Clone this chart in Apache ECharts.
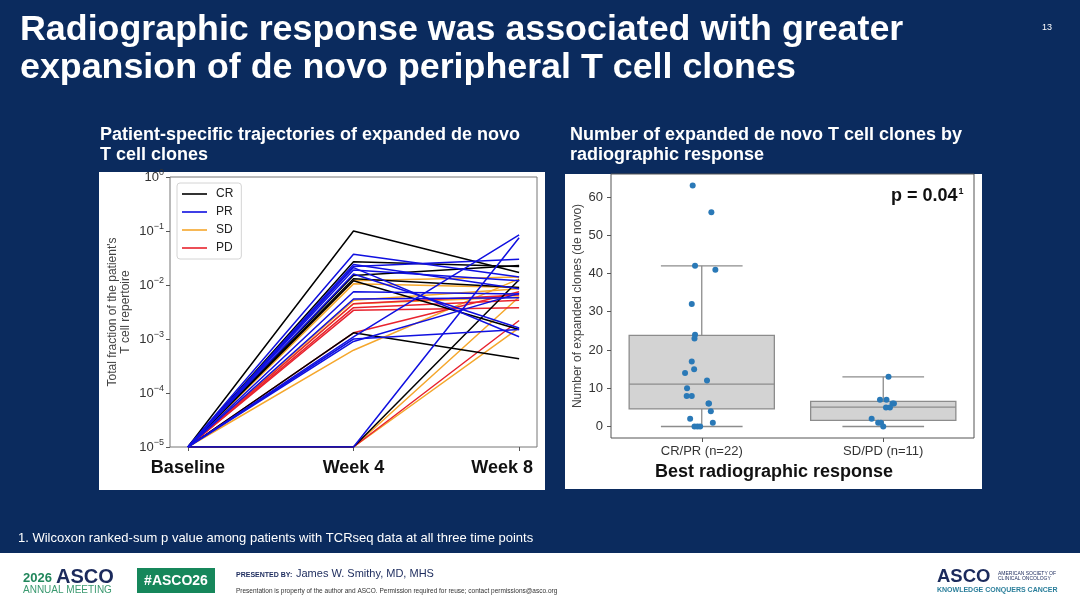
<!DOCTYPE html>
<html>
<head>
<meta charset="utf-8">
<script src="https://cdn.jsdelivr.net/npm/echarts@6/dist/echarts.min.js"></script>
<style>
  html, body { margin: 0; padding: 0; background: #0b2b5e; }
  #main { width: 1080px; height: 608px; }
</style>
</head>
<body>
<div id="main"></div>
<script>
// time points of the trajectories
const timepoints = ['Baseline', 'Week 4', 'Week 8']

// fraction of the T cell repertoire at baseline / week 4 / week 8, one row per patient
const CR = [
  [1e-5, 0.1, 0.017],
  [1e-5, 0.027, 0.022],
  [1e-5, 0.015, 0.023],
  [1e-5, 0.013, 0.009],
  [1e-5, 0.012, 0.0015],
  [1e-5, 0.0013, 0.00043],
  [1e-5, 1e-5, 0.0125]
]
const PR = [
  [1e-5, 0.037, 0.014],
  [1e-5, 0.024, 0.0085],
  [1e-5, 0.022, 0.03],
  [1e-5, 0.021, 0.0011],
  [1e-5, 0.019, 0.012],
  [1e-5, 0.016, 0.0016],
  [1e-5, 0.0075, 0.0068],
  [1e-5, 0.0055, 0.0058],
  [1e-5, 0.0011, 0.085],
  [1e-5, 0.001, 0.0015],
  [1e-5, 0.0009, 0.007],
  [1e-5, 1e-5, 0.075]
]
const SD = [
  [1e-5, 0.012, 0.014],
  [1e-5, 0.0105, 0.009],
  [1e-5, 0.0052, 0.0085],
  [1e-5, 0.0045, 0.006],
  [1e-5, 0.00062, 0.013],
  [1e-5, 1e-5, 0.006],
  [1e-5, 1e-5, 0.0016]
]
const PD = [
  [1e-5, 0.0045, 0.0065],
  [1e-5, 0.0038, 0.0052],
  [1e-5, 0.0034, 0.0038],
  [1e-5, 0.0013, 0.0075],
  [1e-5, 1e-5, 0.0022]
]

// right panel: number of expanded de novo clones per patient
const responseGroups = ['CR/PR (n=22)', 'SD/PD (n=11)']
const crprClones = [63, 56, 42, 41, 32, 24, 23, 17, 15, 14, 12, 10, 8, 8, 6, 6, 4, 2, 1, 0, 0, 0]
const crprJitter = [-0.05, 0.053, -0.037, 0.075, -0.055, -0.037, -0.04, -0.055, -0.042, -0.092, 0.029,
  -0.081, -0.083, -0.055, 0.037, 0.04, 0.05, -0.064, 0.061, -0.04, -0.024, -0.009]
const sdpdClones = [13, 7, 7, 6, 6, 5, 5, 2, 1, 1, 0]
const sdpdJitter = [0.029, -0.018, 0.018, 0.051, 0.059, 0.015, 0.037, -0.064, -0.028, -0.013, 0]
// box stats: lower whisker, q1, median, q3, upper whisker
const crprBox = [0, 4.6, 11.1, 23.8, 42]
const sdpdBox = [0, 1.6, 5.05, 6.55, 13]

const NAVY = '#0b2b5e'
const chart = echarts.init(document.getElementById('main'), null, { renderer: 'canvas' })

const legendNames = ['CR', 'PR', 'SD', 'PD']
const colors = { CR: '#000000', PR: '#1010e0', SD: '#f5a72c', PD: '#e8232e' }
// drawing order: later groups end up on top
const drawOrder = [['SD', SD], ['PD', PD], ['CR', CR], ['PR', PR]]

let lineSeries = []
drawOrder.forEach(function (g) {
  g[1].forEach(function (row) {
    lineSeries.push({
      type: 'line',
      name: g[0],
      xAxisIndex: 0,
      yAxisIndex: 0,
      symbol: 'none',
      silent: true,
      data: row.map(function (v, i) { return [i, v] }),
      lineStyle: { color: colors[g[0]], width: 1.5 },
      itemStyle: { color: colors[g[0]] }
    })
  })
})

function supLabel (v) {
  let e = Math.round(Math.log10(v))
  return '{b|10}{s|' + (e === 0 ? '0' : '\u2212' + (-e)) + '}'
}

function renderBox (params, api) {
  let x = api.value(0)
  let lo = api.coord([x, api.value(1)])
  let q1 = api.coord([x, api.value(2)])
  let med = api.coord([x, api.value(3)])
  let q3 = api.coord([x, api.value(4)])
  let hi = api.coord([x, api.value(5)])
  let half = api.size([0.4, 0])[0]
  let cap = api.size([0.225, 0])[0]
  let cx = lo[0]
  let stroke = { stroke: '#8c8c8c', lineWidth: 1.3, fill: null }
  return {
    type: 'group',
    children: [
      { type: 'line', shape: { x1: cx, y1: q3[1], x2: cx, y2: hi[1] }, style: stroke },
      { type: 'line', shape: { x1: cx, y1: q1[1], x2: cx, y2: lo[1] }, style: stroke },
      { type: 'line', shape: { x1: cx - cap, y1: hi[1], x2: cx + cap, y2: hi[1] }, style: stroke },
      { type: 'line', shape: { x1: cx - cap, y1: lo[1], x2: cx + cap, y2: lo[1] }, style: stroke },
      { type: 'rect', shape: { x: cx - half, y: q3[1], width: half * 2, height: q1[1] - q3[1] },
        style: { fill: '#d3d3d3', stroke: '#8c8c8c', lineWidth: 1.3 } },
      { type: 'line', shape: { x1: cx - half, y1: med[1], x2: cx + half, y2: med[1] }, style: stroke }
    ]
  }
}

const option = {
  backgroundColor: NAVY,
  animation: false,
  textStyle: { fontFamily: 'Liberation Sans, Arial, sans-serif' },
  legend: {
    data: legendNames.map(function (n) {
      return { name: n, itemStyle: { color: colors[n] } }
    }),
    orient: 'vertical',
    left: 177,
    top: 183,
    icon: 'rect',
    itemWidth: 25,
    itemHeight: 1.6,
    itemGap: 4,
    padding: [4, 8, 4, 5],
    backgroundColor: '#fff',
    borderColor: '#d4d4d4',
    borderWidth: 1,
    borderRadius: 3,
    selectedMode: false,
    textStyle: { fontSize: 12, color: '#222', lineHeight: 14, padding: [0, 0, 0, 4] }
  },
  grid: [
    { left: 170, top: 177, width: 367, height: 270, show: true, borderColor: '#777', borderWidth: 1, backgroundColor: '#fff' },
    { left: 611, top: 174, width: 363, height: 264, show: true, borderColor: '#555', borderWidth: 1, backgroundColor: '#fff' }
  ],
  xAxis: [
    {
      type: 'value', gridIndex: 0, min: -0.108, max: 2.108,
      axisLine: { show: false, onZero: false },
      splitLine: { show: false },
      axisTick: { customValues: [0, 1, 2], length: 4, lineStyle: { color: '#555' } },
      axisLabel: {
        customValues: [0, 1, 2],
        margin: 12,
        formatter: function (v) {
          let t = timepoints[Math.round(v)]
          return v === 2 ? '{e|' + t + '}' : '{n|' + t + '}'
        },
        rich: {
          n: { fontSize: 18, fontWeight: 'bold', color: '#111' },
          e: { fontSize: 18, fontWeight: 'bold', color: '#111', padding: [0, 34, 0, 0] }
        }
      }
    },
    {
      type: 'value', gridIndex: 1, min: -0.5, max: 1.5,
      axisLine: { show: false, onZero: false },
      splitLine: { show: false },
      axisTick: { customValues: [0, 1], length: 4, lineStyle: { color: '#555' } },
      axisLabel: {
        customValues: [0, 1],
        margin: 7,
        fontSize: 13,
        color: '#333',
        formatter: function (v) { return responseGroups[Math.round(v)] }
      }
    }
  ],
  yAxis: [
    {
      type: 'log', gridIndex: 0, logBase: 10, min: 1e-5, max: 1,
      name: "Total fraction of the patient's\nT cell repertoire",
      nameLocation: 'middle',
      nameGap: 38,
      nameTextStyle: { fontSize: 12, color: '#444', lineHeight: 13 },
      axisLine: { show: false, onZero: false },
      splitLine: { show: false },
      axisTick: { length: 4, lineStyle: { color: '#555' } },
      axisLabel: {
        margin: 6,
        formatter: supLabel,
        rich: {
          b: { fontSize: 13, color: '#333' },
          s: { fontSize: 9, color: '#333', padding: [0, 0, 8, 0] }
        }
      }
    },
    {
      type: 'value', gridIndex: 1, min: -3, max: 66,
      name: 'Number of expanded clones (de novo)',
      nameLocation: 'middle',
      nameGap: 27,
      nameTextStyle: { fontSize: 12, color: '#444' },
      axisLine: { show: false, onZero: false },
      splitLine: { show: false },
      axisTick: { customValues: [0, 10, 20, 30, 40, 50, 60], length: 4, lineStyle: { color: '#555' } },
      axisLabel: { customValues: [0, 10, 20, 30, 40, 50, 60], margin: 8, fontSize: 13, color: '#333' }
    }
  ],
  series: lineSeries.concat([
    {
      type: 'custom',
      xAxisIndex: 1,
      yAxisIndex: 1,
      silent: true,
      renderItem: renderBox,
      encode: { x: 0, y: [1, 2, 3, 4, 5] },
      data: [[0].concat(crprBox), [1].concat(sdpdBox)],
      z: 2
    },
    {
      type: 'scatter',
      xAxisIndex: 1,
      yAxisIndex: 1,
      silent: true,
      symbolSize: 6,
      itemStyle: { color: '#2a79b7', opacity: 1 },
      data: crprClones.map(function (v, i) { return [crprJitter[i], v] })
        .concat(sdpdClones.map(function (v, i) { return [1 + sdpdJitter[i], v] })),
      z: 5
    }
  ]),
  graphic: [
    // white chart panels
    { type: 'rect', z: -10, shape: { x: 99, y: 172, width: 446, height: 318 }, style: { fill: '#fff' } },
    { type: 'rect', z: -10, shape: { x: 565, y: 174, width: 417, height: 315 }, style: { fill: '#fff' } },
    // footer band
    { type: 'rect', z: -10, shape: { x: 0, y: 553, width: 1080, height: 55 }, style: { fill: '#fff' } },

    // slide title
    { type: 'text', z: 10, x: 20, y: 30, style: { text: 'Radiographic response was associated with greater', fontSize: 35.8, fontWeight: 'bold', fill: '#fff', verticalAlign: 'middle', fontFamily: 'Liberation Sans' } },
    { type: 'text', z: 10, x: 20, y: 68, style: { text: 'expansion of de novo peripheral T cell clones', fontSize: 35.8, fontWeight: 'bold', fill: '#fff', verticalAlign: 'middle', fontFamily: 'Liberation Sans' } },
    { type: 'text', z: 10, x: 1047, y: 28, style: { text: '13', fontSize: 9, fill: '#fff', align: 'center', verticalAlign: 'middle', fontFamily: 'Liberation Sans' } },

    // panel headings
    { type: 'text', z: 10, x: 100, y: 135, style: { text: 'Patient-specific trajectories of expanded de novo', fontSize: 18, fontWeight: 'bold', fill: '#fff', verticalAlign: 'middle', fontFamily: 'Liberation Sans' } },
    { type: 'text', z: 10, x: 100, y: 155, style: { text: 'T cell clones', fontSize: 18, fontWeight: 'bold', fill: '#fff', verticalAlign: 'middle', fontFamily: 'Liberation Sans' } },
    { type: 'text', z: 10, x: 570, y: 135, style: { text: 'Number of expanded de novo T cell clones by', fontSize: 18, fontWeight: 'bold', fill: '#fff', verticalAlign: 'middle', fontFamily: 'Liberation Sans' } },
    { type: 'text', z: 10, x: 570, y: 155, style: { text: 'radiographic response', fontSize: 18, fontWeight: 'bold', fill: '#fff', verticalAlign: 'middle', fontFamily: 'Liberation Sans' } },

    // right panel annotations
    { type: 'text', z: 10, x: 891, y: 196, style: {
      text: '{p|p = 0.04}{s|1}', verticalAlign: 'middle',
      rich: { p: { fontSize: 18, fontWeight: 'bold', fill: '#111', fontFamily: 'Liberation Sans' },
              s: { fontSize: 9, fontWeight: 'bold', fill: '#111', padding: [0, 0, 9, 1], fontFamily: 'Liberation Sans' } } } },
    { type: 'text', z: 10, x: 774, y: 472, style: { text: 'Best radiographic response', fontSize: 18, fontWeight: 'bold', fill: '#111', align: 'center', verticalAlign: 'middle', fontFamily: 'Liberation Sans' } },

    // footnote
    { type: 'text', z: 10, x: 18, y: 538, style: { text: '1. Wilcoxon ranked-sum p value among patients with TCRseq data at all three time points', fontSize: 13, fill: '#fff', verticalAlign: 'middle', fontFamily: 'Liberation Sans' } },

    // footer: meeting logo
    { type: 'text', z: 10, x: 23, y: 578, style: { text: '2026', fontSize: 13, fontWeight: 'bold', fill: '#22875c', verticalAlign: 'middle', fontFamily: 'Liberation Sans' } },
    { type: 'text', z: 10, x: 56, y: 577, style: { text: 'ASCO', fontSize: 20, fontWeight: 'bold', fill: '#1b2a5c', verticalAlign: 'middle', fontFamily: 'Liberation Sans' } },
    { type: 'text', z: 10, x: 23, y: 590, style: { text: 'ANNUAL MEETING', fontSize: 10, fill: '#3b9a70', verticalAlign: 'middle', fontFamily: 'Liberation Sans' } },
    { type: 'rect', z: 10, shape: { x: 137, y: 568, width: 78, height: 25 }, style: { fill: '#16875b' } },
    { type: 'text', z: 11, x: 176, y: 581, style: { text: '#ASCO26', fontSize: 14, fontWeight: 'bold', fill: '#fff', align: 'center', verticalAlign: 'middle', fontFamily: 'Liberation Sans' } },
    { type: 'text', z: 10, x: 236, y: 575, style: { text: 'PRESENTED BY:', fontSize: 7, fontWeight: 'bold', fill: '#1b2a5c', verticalAlign: 'middle', fontFamily: 'Liberation Sans' } },
    { type: 'text', z: 10, x: 296, y: 574, style: { text: 'James W. Smithy, MD, MHS', fontSize: 11, fill: '#1b2a5c', verticalAlign: 'middle', fontFamily: 'Liberation Sans' } },
    { type: 'text', z: 10, x: 236, y: 591, style: { text: 'Presentation is property of the author and ASCO. Permission required for reuse; contact permissions@asco.org', fontSize: 6.5, fill: '#333', verticalAlign: 'middle', fontFamily: 'Liberation Sans' } },

    // footer: society logo
    { type: 'text', z: 10, x: 937, y: 577, style: { text: 'ASCO', fontSize: 18.5, fontWeight: 'bold', fill: '#1b2a5c', verticalAlign: 'middle', fontFamily: 'Liberation Sans' } },
    { type: 'text', z: 10, x: 998, y: 574, style: { text: 'AMERICAN SOCIETY OF', fontSize: 5, fill: '#1b2a5c', verticalAlign: 'middle', fontFamily: 'Liberation Sans' } },
    { type: 'text', z: 10, x: 998, y: 579, style: { text: 'CLINICAL ONCOLOGY', fontSize: 5, fill: '#1b2a5c', verticalAlign: 'middle', fontFamily: 'Liberation Sans' } },
    { type: 'text', z: 10, x: 937, y: 590, style: { text: 'KNOWLEDGE CONQUERS CANCER', fontSize: 7, fontWeight: 'bold', fill: '#2b7f9b', verticalAlign: 'middle', fontFamily: 'Liberation Sans' } }
  ]
}

chart.setOption(option)
</script>
</body>
</html>
